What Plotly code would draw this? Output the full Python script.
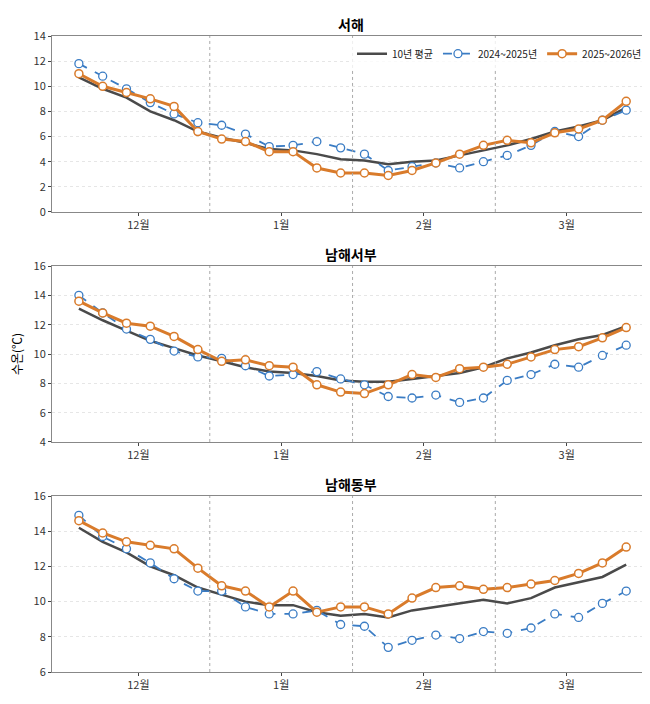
import plotly.graph_objects as go
from plotly.subplots import make_subplots

x = list(range(24))
month_pos = [2.5, 8.5, 14.5, 20.5]
month_labels = ["12월", "1월", "2월", "3월"]
regions = ["서해", "남해서부", "남해동부"]

west_avg = [10.7, 9.8, 9.1, 8.0, 7.3, 6.4, 5.9, 5.5, 5.0, 4.9, 4.6, 4.2, 4.1, 3.8, 4.0, 4.1, 4.5, 4.9, 5.3, 5.8, 6.4, 6.8, 7.3, 8.3]
west_2024 = [11.8, 10.8, 9.8, 8.7, 7.8, 7.1, 6.9, 6.2, 5.2, 5.3, 5.6, 5.1, 4.6, 3.3, 3.6, 3.9, 3.5, 4.0, 4.5, 5.3, 6.4, 6.0, 7.3, 8.1]
west_2025 = [11.0, 10.0, 9.5, 9.0, 8.4, 6.4, 5.8, 5.6, 4.8, 4.8, 3.5, 3.1, 3.1, 2.9, 3.3, 3.9, 4.6, 5.3, 5.7, 5.5, 6.3, 6.6, 7.3, 8.8]

sw_avg = [13.1, 12.3, 11.6, 10.9, 10.4, 9.9, 9.5, 9.1, 8.8, 8.7, 8.5, 8.2, 8.1, 8.1, 8.3, 8.5, 8.7, 9.1, 9.7, 10.1, 10.6, 11.0, 11.3, 11.9]
sw_2024 = [14.0, 12.8, 11.7, 11.0, 10.2, 9.8, 9.7, 9.2, 8.5, 8.6, 8.8, 8.3, 7.9, 7.1, 7.0, 7.2, 6.7, 7.0, 8.2, 8.6, 9.3, 9.1, 9.9, 10.6]
sw_2025 = [13.6, 12.8, 12.1, 11.9, 11.2, 10.3, 9.5, 9.6, 9.2, 9.1, 7.9, 7.4, 7.3, 7.9, 8.6, 8.4, 9.0, 9.1, 9.3, 9.8, 10.3, 10.5, 11.1, 11.8]

se_avg = [14.2, 13.4, 12.8, 12.0, 11.5, 10.8, 10.4, 10.0, 9.8, 9.8, 9.4, 9.2, 9.3, 9.1, 9.5, 9.7, 9.9, 10.1, 9.9, 10.2, 10.8, 11.1, 11.4, 12.1]
se_2024 = [14.9, 13.7, 13.0, 12.2, 11.3, 10.6, 10.6, 9.7, 9.3, 9.3, 9.5, 8.7, 8.6, 7.4, 7.8, 8.1, 7.9, 8.3, 8.2, 8.5, 9.3, 9.1, 9.9, 10.6]
se_2025 = [14.6, 13.9, 13.4, 13.2, 13.0, 11.9, 10.9, 10.6, 9.7, 10.6, 9.4, 9.7, 9.7, 9.3, 10.2, 10.8, 10.9, 10.7, 10.8, 11.0, 11.2, 11.6, 12.2, 13.1]

data = [(west_avg, west_2024, west_2025), (sw_avg, sw_2024, sw_2025), (se_avg, se_2024, se_2025)]
y_ranges = [(0, 14), (4, 16), (6, 16)]

fig = make_subplots(rows=3, cols=1, vertical_spacing=0.085, subplot_titles=regions)

for i, (avg, y24, y25) in enumerate(data):
    row = i + 1
    show = row == 1
    fig.add_trace(go.Scatter(x=x, y=avg, mode="lines", name="10년 평균", showlegend=show,
                             line=dict(color="#4a4a4a", width=2.5)), row=row, col=1)
    fig.add_trace(go.Scatter(x=x, y=y24, mode="lines+markers", name="2024~2025년", showlegend=show,
                             line=dict(color="#3a7cc4", width=1.8, dash="dash"),
                             marker=dict(symbol="circle", size=8, color="white",
                                         line=dict(color="#3a7cc4", width=1.3))), row=row, col=1)
    fig.add_trace(go.Scatter(x=x, y=y25, mode="lines+markers", name="2025~2026년", showlegend=show,
                             line=dict(color="#d97b2b", width=3),
                             marker=dict(symbol="circle", size=8, color="white",
                                         line=dict(color="#d97b2b", width=1.5))), row=row, col=1)
    for b in [5.5, 11.5, 17.5]:
        fig.add_vline(x=b, line=dict(color="#aaaaaa", width=1, dash="dot"), row=row, col=1)
    fig.update_yaxes(range=list(y_ranges[i]), dtick=2, showgrid=True, gridcolor="#e6e6e6",
                     griddash="dot", showline=True, linecolor="#888888", mirror=True,
                     ticks="outside", ticklen=3, zeroline=False, row=row, col=1)
    fig.update_xaxes(range=[-1.13, 24.0], tickvals=month_pos, ticktext=month_labels,
                     showgrid=False, showline=True, linecolor="#888888", mirror=True,
                     ticks="outside", ticklen=3, zeroline=False, row=row, col=1)

fig.update_yaxes(title_text="수온(℃)", title_font=dict(size=12, color="black"), title_standoff=8, row=2, col=1)

fig.update_annotations(font=dict(size=14, color="black", family="Noto Sans CJK KR"))
for ann in fig.layout.annotations:
    ann.text = "<b>" + ann.text + "</b>"

fig.update_layout(
    width=650, height=704,
    margin=dict(l=44, r=8, t=28, b=40),
    plot_bgcolor="white", paper_bgcolor="white",
    font=dict(family="Noto Sans CJK KR", size=11, color="#333333"),
    legend=dict(orientation="h", x=0.995, y=0.995, xref="paper", yref="paper",
                xanchor="right", yanchor="top", bgcolor="rgba(255,255,255,0.8)",
                itemwidth=30, tracegroupgap=0,
                font=dict(size=10, color="#222222")),
)

fig.write_html("out.html")
